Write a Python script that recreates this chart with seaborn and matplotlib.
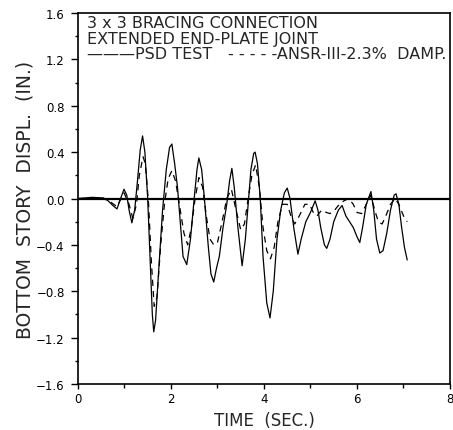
import pandas as pd
import seaborn as sns
import matplotlib.pyplot as plt

# --- Datos ---
psd_time = [0.0, 0.3, 0.55, 0.65, 0.75, 0.84, 0.9, 0.99, 1.05, 1.1, 1.16, 1.22, 1.28,
            1.34, 1.39, 1.44, 1.5, 1.56, 1.6, 1.63, 1.67, 1.74, 1.82, 1.9, 1.97, 2.02,
            2.08, 2.14, 2.2, 2.26, 2.34, 2.42, 2.5, 2.56, 2.6, 2.66, 2.72, 2.8, 2.86,
            2.92, 2.98, 3.04, 3.12, 3.2, 3.26, 3.31, 3.36, 3.44, 3.53, 3.6, 3.66, 3.72,
            3.78, 3.81, 3.86, 3.92, 3.98, 4.06, 4.13, 4.2, 4.28, 4.36, 4.44, 4.5, 4.56,
            4.64, 4.73, 4.8, 4.9, 5.0, 5.1, 5.16, 5.22, 5.3, 5.35, 5.42, 5.5, 5.6, 5.68,
            5.76, 5.84, 5.92, 6.0, 6.06, 6.12, 6.2, 6.3, 6.36, 6.42, 6.49, 6.56, 6.64,
            6.72, 6.8, 6.84, 6.9, 6.96, 7.02, 7.08]
psd_displ = [0.0, 0.01, 0.005, -0.02, -0.06, -0.09, -0.02, 0.08, 0.03, -0.1, -0.21, -0.1, 0.15,
             0.42, 0.54, 0.4, 0.0, -0.6, -1.0, -1.15, -1.05, -0.6, -0.1, 0.25, 0.44, 0.47,
             0.3, 0.1, -0.2, -0.5, -0.57, -0.35, 0.0, 0.25, 0.35, 0.25, 0.0, -0.4, -0.65,
             -0.72, -0.6, -0.5, -0.25, -0.05, 0.15, 0.26, 0.1, -0.25, -0.58, -0.35, -0.05, 0.25,
             0.39, 0.40, 0.3, 0.0, -0.5, -0.9, -1.03, -0.8, -0.35, -0.1, 0.05, 0.09, 0.0,
             -0.25, -0.48, -0.35, -0.2, -0.12, -0.02, -0.1, -0.25, -0.4, -0.43, -0.35, -0.2, -0.1, -0.06,
             -0.15, -0.2, -0.25, -0.33, -0.38, -0.25, -0.05, 0.06, -0.1, -0.35, -0.47, -0.45, -0.3,
             -0.1, 0.03, 0.04, -0.05, -0.25, -0.42, -0.53]

ansr_time = [0.0, 0.55, 0.7, 0.84, 0.99, 1.1, 1.18, 1.26, 1.32, 1.4, 1.45, 1.52, 1.58,
             1.64, 1.7, 1.78, 1.86, 1.94, 2.02, 2.1, 2.2, 2.28, 2.36, 2.44, 2.52, 2.6,
             2.68, 2.76, 2.84, 2.92, 3.0, 3.1, 3.2, 3.3, 3.4, 3.5, 3.58, 3.66, 3.74,
             3.82, 3.9, 3.98, 4.06, 4.14, 4.22, 4.3, 4.4, 4.5, 4.58, 4.66, 4.76, 4.88,
             4.98, 5.06, 5.14, 5.24, 5.34, 5.42, 5.52, 5.62, 5.72, 5.82, 5.92, 6.0, 6.1,
             6.2, 6.3, 6.38, 6.46, 6.54, 6.62, 6.72, 6.82, 6.9, 7.0, 7.08]
ansr_displ = [0.0, 0.0, -0.03, -0.07, 0.05, -0.05, -0.17, -0.05, 0.2, 0.36, 0.3, -0.05, -0.55,
              -0.93, -0.85, -0.4, -0.05, 0.17, 0.24, 0.15, -0.1, -0.3, -0.4, -0.25, 0.0, 0.18,
              0.1, -0.15, -0.35, -0.4, -0.38, -0.2, 0.0, 0.08, -0.1, -0.27, -0.22, 0.0, 0.2,
              0.29, 0.1, -0.25, -0.45, -0.52, -0.42, -0.2, -0.05, -0.05, -0.15, -0.22, -0.15, -0.05,
              -0.05, -0.12, -0.15, -0.1, -0.12, -0.13, -0.1, -0.05, -0.02, 0.0, -0.05, -0.12, -0.13,
              -0.05, 0.03, -0.1, -0.2, -0.22, -0.15, -0.05, 0.0, -0.05, -0.15, -0.2]

y_ticks = [-1.6, -1.2, -0.8, -0.4, 0.0, 0.4, 0.8, 1.2, 1.6]
x_ticks = [0, 2, 4, 6, 8]

title_lines = ["3 x 3 BRACING CONNECTION",
               "EXTENDED END-PLATE JOINT"]
legend_left = "\u2014\u2014\u2014PSD TEST"
legend_right = "- - - - -ANSR-III-2.3%  DAMP."

# --- Grafico ---
sns.set_style("ticks")
plt.rcParams['font.family'] = ['DejaVu Sans']

fig = plt.figure(figsize=(4.53, 4.31), dpi=100)
ax = fig.add_axes([0.172, 0.1067, 0.8214, 0.8608])

df_psd = pd.DataFrame({"t": psd_time, "d": psd_displ})
df_ansr = pd.DataFrame({"t": ansr_time, "d": ansr_displ})

ax.axhline(0.0, color="black", lw=1.6, zorder=1)
sns.lineplot(data=df_psd, x="t", y="d", ax=ax, color="black", lw=0.9,
             estimator=None, sort=False)
sns.lineplot(data=df_ansr, x="t", y="d", ax=ax, color="black", lw=0.9,
             linestyle=(0, (5, 4)), estimator=None, sort=False)

ax.set_xlim(0, 8)
ax.set_ylim(-1.6, 1.6)
ax.set_xticks(x_ticks)
ax.set_xticks([1, 3, 5, 7], minor=True)
ax.set_yticks(y_ticks)
ax.set_yticks([-1.4, -1.0, -0.6, -0.2, 0.2, 0.6, 1.0, 1.4], minor=True)
ax.set_yticklabels([f"{v:.1f}".replace("-", "\u2212") for v in y_ticks])
ax.tick_params(axis="both", which="both", direction="out", width=1, colors="black")
ax.tick_params(axis="y", which="major", length=5, pad=4.5, labelsize=8.5)
ax.tick_params(axis="y", which="minor", length=2.5)
ax.tick_params(axis="x", which="major", length=3.5, pad=2.5, labelsize=8.5)
ax.tick_params(axis="x", which="minor", length=3)
for s in ax.spines.values():
    s.set_linewidth(1.2)
    s.set_color("black")

ax.set_xlabel("TIME  (SEC.)", fontsize=12, labelpad=4)
ax.set_ylabel("BOTTOM  STORY  DISPL.  (IN.)", fontsize=13.5, labelpad=1)

# --- Bloque de titulo y leyenda (texto) ---
for i, line in enumerate(title_lines):
    ax.text(0.024, 0.962 - i * 0.042, line, transform=ax.transAxes,
            fontsize=11.5, va="baseline", ha="left")
ax.text(0.024, 0.878, legend_left, transform=ax.transAxes,
        fontsize=11.5, va="baseline", ha="left")
ax.text(0.99, 0.878, legend_right, transform=ax.transAxes,
        fontsize=11.5, va="baseline", ha="right")

plt.savefig("out.png", dpi=100)
